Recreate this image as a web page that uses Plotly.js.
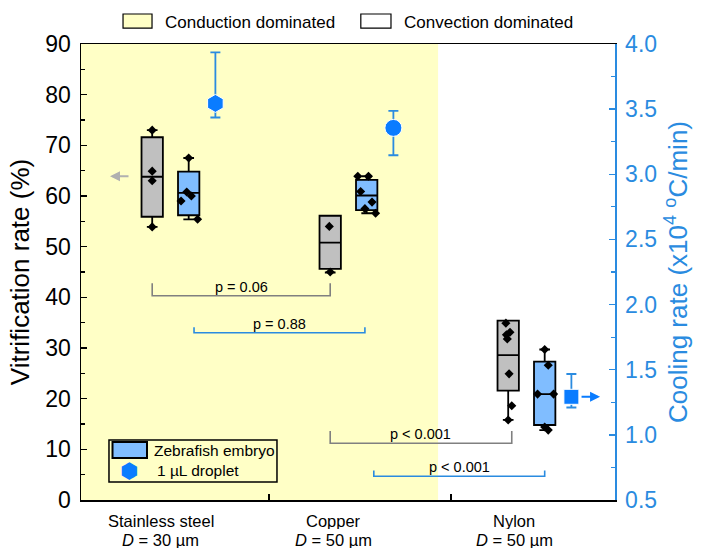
<!DOCTYPE html>
<html><head><meta charset="utf-8">
<script src="https://cdn.plot.ly/plotly-3.0.1.min.js"></script>
<style>html,body{margin:0;padding:0;background:#fff}#chart{width:705px;height:549px}</style>
</head><body><div id="chart"></div>
<script>
// ---- data ----
const catNames = ['Stainless steel', 'Copper', 'Nylon'];
const catD = ['30', '50', '50'];
// gray boxes (vitrification rate %)
const grayQ1 = [55.9, 45.6, 21.6];
const grayMed = [63.8, 50.8, 28.6];
const grayQ3 = [71.6, 56.1, 35.4];
const grayLo = [53.9, 44.9, 15.8];
const grayHi = [73.0, 56.1, 35.4];
const grayPts = [[73.0, 64.9, 63.0, 53.9], [54.0, 45.0], [34.9, 33.1, 32.6, 31.8, 24.9, 18.6, 15.8]];
// blue boxes: zebrafish embryo (vitrification rate %)
const blueQ1 = [56.2, 57.2, 14.8];
const blueMed = [60.6, 60.1, 20.9];
const blueQ3 = [64.8, 63.2, 27.3];
const blueLo = [55.4, 56.6, 13.8];
const blueHi = [67.5, 63.9, 29.7];
const bluePts = [[67.5, 60.8, 60.0, 59.0, 55.4], [63.9, 63.9, 60.9, 58.8, 57.5, 56.6], [29.7, 26.6, 20.9, 20.9, 14.4, 13.8]];
// 1 uL droplet cooling rate (x10^4 C/min)
const dropRate = [3.544, 3.356, 1.292];
const dropHi = [3.936, 3.487, 1.467];
const dropLo = [3.436, 3.146, 1.210];
// significance
const pLabels = ['p = 0.06', 'p = 0.88', 'p < 0.001', 'p < 0.001'];
const legendTop = ['Conduction dominated', 'Convection dominated'];
const legendBottom = ['Zebrafish embryo', '1 µL droplet'];

// ---- layout helpers (positions/styles) ----
const grayOff = 0.40, blueOff = 0.605, dropOff = 0.755;
const grayJit = [[0, 0, 0, 0], [-0.005, 0], [-0.013, 0.01, -0.01, -0.005, 0.005, 0.02, 0]];
const blueJit = [[0, -0.011, 0.015, -0.043, 0.05], [-0.05, 0.01, -0.034, 0.03, -0.01, 0.05], [0, 0.02, -0.04, 0.05, 0, 0.02]];
const dropSymbols = ['hexagon', 'circle', 'square'];
const dropSizes = [18, 17, 15];
const FONT = 'Arial, "Liberation Sans", Helvetica, sans-serif';
const BLUE_AX = '#2A8BE0';
const BLUE_DROP = '#0A7CFF';
const YELLOW = '#FFFFC6';

const idx = catNames.map((_, i) => i);
const traces = [];
traces.push({
  type: 'box', name: 'gray', showlegend: false,
  x: idx.map(i => i + grayOff), q1: grayQ1, median: grayMed, q3: grayQ3,
  lowerfence: grayLo, upperfence: grayHi, width: 0.12, whiskerwidth: 0.5,
  fillcolor: '#C0C0C0', line: {color: '#000', width: 1.8}, boxpoints: false, hoverinfo: 'skip'
});
traces.push({
  type: 'box', name: legendBottom[0], showlegend: false,
  x: idx.map(i => i + blueOff), q1: blueQ1, median: blueMed, q3: blueQ3,
  lowerfence: blueLo, upperfence: blueHi, width: 0.12, whiskerwidth: 0.5,
  fillcolor: '#80BDFF', line: {color: '#000', width: 1.8}, boxpoints: false, hoverinfo: 'skip'
});
function pts(arr, jit, off) {
  const xs = [], ys = [];
  arr.forEach((vals, i) => vals.forEach((v, k) => { xs.push(i + off + jit[i][k]); ys.push(v); }));
  return {x: xs, y: ys};
}
const gp = pts(grayPts, grayJit, grayOff), bp = pts(bluePts, blueJit, blueOff);
[gp, bp].forEach(p => traces.push({
  type: 'scatter', mode: 'markers', x: p.x, y: p.y, showlegend: false, hoverinfo: 'skip',
  marker: {symbol: 'diamond', size: 7, color: '#000', opacity: 1}
}));
traces.push({
  type: 'scatter', mode: 'markers', name: legendBottom[1], yaxis: 'y2', showlegend: false,
  x: idx.map(i => i + dropOff), y: dropRate,
  marker: {symbol: dropSymbols, size: dropSizes, color: BLUE_DROP, opacity: 1},
  error_y: {type: 'data', symmetric: false, array: dropRate.map((v, i) => dropHi[i] - v),
    arrayminus: dropRate.map((v, i) => v - dropLo[i]), color: BLUE_AX, thickness: 1.8, width: 5}
});

// brackets: [x0, x1, yLine, yEnd, color]
const brackets = [
  [0 + grayOff, 1 + grayOff, 40.3, 42.8, '#808080'],
  [0.635, 1.595, 33.0, 34.1, BLUE_AX],
  [1 + grayOff, 2.42, 11.2, 13.6, '#808080'],
  [1 + blueOff + 0.04, 2 + blueOff, 4.7, 5.8, BLUE_AX]
];
const shapes = [
  {type: 'rect', xref: 'x', yref: 'paper', x0: 0, x1: 2.006, y0: 0, y1: 1, fillcolor: YELLOW, line: {width: 0}, layer: 'below'},
  // top legend swatches
  {type: 'rect', xref: 'paper', yref: 'paper', x0: 0.0787, x1: 0.133, y0: 1.035, y1: 1.0658, fillcolor: YELLOW, line: {color: '#000', width: 1.2}},
  {type: 'rect', xref: 'paper', yref: 'paper', x0: 0.524, x1: 0.5805, y0: 1.035, y1: 1.0658, fillcolor: '#fff', line: {color: '#000', width: 1.2}},
  // bottom legend frame and swatch
  {type: 'rect', xref: 'paper', yref: 'paper', x0: 0.0524, x1: 0.367, y0: 0.0395, y1: 0.1316, fillcolor: 'rgba(0,0,0,0)', line: {color: '#000', width: 1.5}},
  {type: 'rect', xref: 'paper', yref: 'paper', x0: 0.059, x1: 0.1236, y0: 0.0921, y1: 0.1272, fillcolor: '#80BDFF', line: {color: '#000', width: 2}}
];
const annotations = [
  {xref: 'paper', yref: 'paper', x: 0.1536, y: 1.047, xanchor: 'left', yanchor: 'middle', text: legendTop[0], showarrow: false, font: {family: FONT, size: 17, color: '#000'}},
  {xref: 'paper', yref: 'paper', x: 0.601, y: 1.047, xanchor: 'left', yanchor: 'middle', text: legendTop[1], showarrow: false, font: {family: FONT, size: 17, color: '#000'}},
  {xref: 'paper', yref: 'paper', x: 0.133, y: 0.1075, xanchor: 'left', yanchor: 'middle', text: legendBottom[0], showarrow: false, font: {family: FONT, size: 15.5, color: '#000'}},
  {xref: 'paper', yref: 'paper', x: 0.1386, y: 0.0636, xanchor: 'left', yanchor: 'middle', text: legendBottom[1], showarrow: false, font: {family: FONT, size: 15.5, color: '#000'}},
  {xref: 'paper', yref: 'paper', x: 0.0899, y: 0.0636, xanchor: 'center', yanchor: 'middle', text: '⬢', showarrow: false, font: {family: '"DejaVu Sans", sans-serif', size: 21, color: BLUE_DROP}}
];
brackets.forEach((b, k) => {
  shapes.push({type: 'path', xref: 'x', yref: 'y', path: `M${b[0]},${b[3]} L${b[0]},${b[2]} L${b[1]},${b[2]} L${b[1]},${b[3]}`, line: {color: b[4], width: 1.6}});
  annotations.push({xref: 'x', yref: 'y', x: (b[0] + b[1]) / 2, y: b[2], yanchor: 'bottom', yshift: -1, text: pLabels[k], showarrow: false, font: {family: FONT, size: 14.5, color: '#000'}});
});
const labelX = [0.449, 1.416, 2.433];
catNames.forEach((c, i) => {
  annotations.push({xref: 'x', yref: 'paper', x: labelX[i], y: 0, yanchor: 'middle', yshift: -20, height: 17, borderpad: 0, text: c, showarrow: false, font: {family: FONT, size: 16.5, color: '#000'}});
  annotations.push({xref: 'x', yref: 'paper', x: labelX[i], y: 0, yanchor: 'middle', yshift: -39, height: 17, borderpad: 0, text: '<i>D</i> = ' + catD[i] + ' µm', showarrow: false, font: {family: FONT, size: 16.5, color: '#000'}});
});
// axis direction arrows
annotations.push({xref: 'x', yref: 'y', x: 0.163, y: grayMed[0] + 0.1, ax: 20, ay: 0, text: '', showarrow: true, arrowhead: 2, arrowsize: 1, arrowwidth: 2, arrowcolor: '#B0B0B0'});
annotations.push({xref: 'x', yref: 'y2', x: 2.916, y: dropRate[2], ax: -20, ay: 0, text: '', showarrow: true, arrowhead: 2, arrowsize: 1, arrowwidth: 2, arrowcolor: BLUE_DROP});

const layout = {
  width: 705, height: 549,
  margin: {l: 81, r: 90, t: 44, b: 49},
  paper_bgcolor: '#fff', plot_bgcolor: '#fff',
  font: {family: FONT, color: '#000'},
  showlegend: false,
  xaxis: {range: [0, 3], showgrid: false, zeroline: false, showline: true, linecolor: '#000', linewidth: 1.5, mirror: true,
    tickvals: [1.056, 2.079], ticks: 'inside', ticklen: 6, tickwidth: 1.5, tickcolor: '#000', showticklabels: false},
  yaxis: {range: [0, 90], dtick: 10, showgrid: false, zeroline: false, showline: true, linecolor: '#000', linewidth: 1.5,
    ticks: 'inside', ticklen: 6, tickwidth: 1.5, tickcolor: '#000', tickfont: {family: FONT, size: 23, color: '#000'},
    ticklabelstandoff: 4,
    minor: {dtick: 5, ticks: 'inside', ticklen: 4, tickwidth: 1.2, tickcolor: '#000', showgrid: false},
    title: {text: 'Vitrification rate (%)', font: {family: FONT, size: 26, color: '#000'}, standoff: 8}},
  yaxis2: {overlaying: 'y', side: 'right', range: [0.5, 4.0], dtick: 0.5, tickformat: '.1f', showgrid: false, zeroline: false,
    showline: true, linecolor: BLUE_AX, linewidth: 1.5, ticks: 'inside', ticklen: 6, tickwidth: 1.5, tickcolor: BLUE_AX,
    tickfont: {family: FONT, size: 23, color: BLUE_AX}, ticklabelstandoff: 4,
    minor: {dtick: 0.25, ticks: 'inside', ticklen: 4, tickwidth: 1.2, tickcolor: BLUE_AX, showgrid: false},
    title: {text: 'Cooling rate (x10<sup>4</sup> <sup>o</sup>C/min)', font: {family: FONT, size: 26, color: BLUE_AX}, standoff: 12}},
  shapes: shapes, annotations: annotations
};
Plotly.newPlot('chart', traces, layout, {displayModeBar: false, staticPlot: true});
</script></body></html>
